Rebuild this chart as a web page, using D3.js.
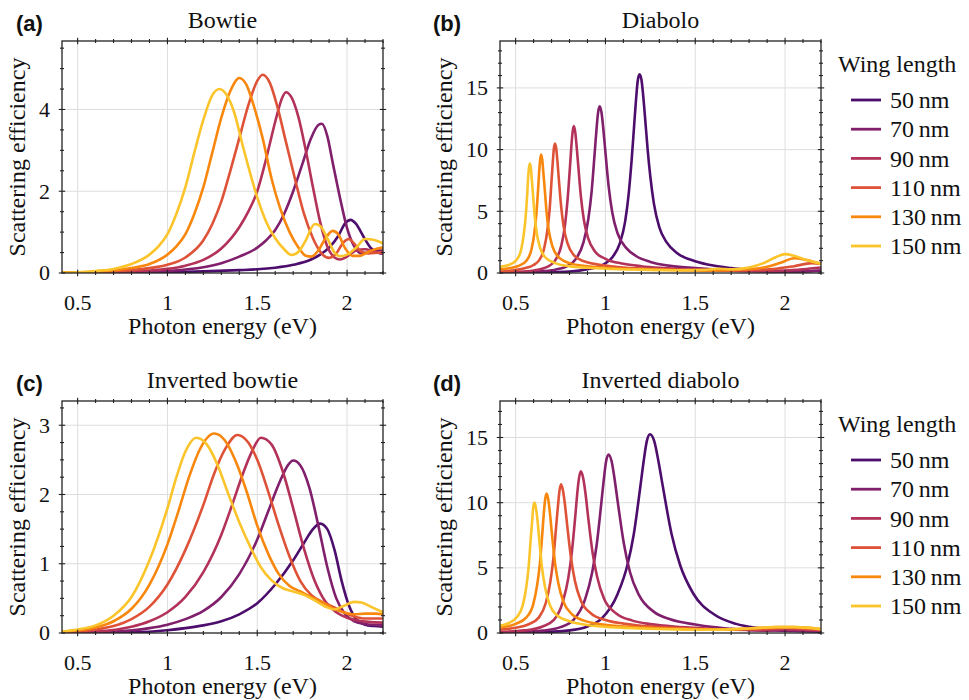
<!DOCTYPE html>
<html><head><meta charset="utf-8">
<script src="https://cdn.jsdelivr.net/npm/d3@7"></script>
<style>
body{margin:0;background:#fff}svg{display:block}
.serif{font-family:"Liberation Serif","DejaVu Serif","Noto Serif","Tinos","Nimbus Roman","Nimbus Roman No9 L","FreeSerif","Times New Roman","Times","Noto Serif CJK SC","Noto Serif CJK JP",serif}
.sansb{font-family:"Liberation Sans",Arial,sans-serif;font-weight:bold}
</style>
</head><body>
<svg id="chart" width="969" height="700"></svg>
<script>
// ---------- data ----------
const seriesLabels = ["50\u2009nm","70\u2009nm","90\u2009nm","110\u2009nm","130\u2009nm","150\u2009nm"];
const colorStops = [0.23,0.355,0.48,0.605,0.735,0.86];
const xDomain = [0.413, 2.2];
const xTicks = [0.5,1,1.5,2];
const xTickLabels = ["0.5","1","1.5","2"];
const panelTitles = ["Bowtie","Diabolo","Inverted bowtie","Inverted diabolo"];
const panelLetters = ["(a)","(b)","(c)","(d)"];
const xAxisTitle = "Photon energy (eV)";
const yAxisTitle = "Scattering efficiency";
const legendTitle = "Wing length";

// (a) Bowtie
const bowtie50 = [[0.413,0.001],[0.8,0.01],[1.0,0.02],[1.2,0.04],[1.4,0.07],[1.5,0.09],[1.6,0.13],[1.7,0.2],[1.8,0.33],[1.85,0.45],[1.9,0.62],[1.95,0.9],[1.99,1.22],[2.02,1.3],[2.05,1.2],[2.09,0.9],[2.13,0.62],[2.17,0.5],[2.2,0.47]];
const bowtie70 = [[0.413,0.002],[0.8,0.02],[1.0,0.05],[1.2,0.14],[1.3,0.24],[1.4,0.4],[1.5,0.62],[1.55,0.8],[1.6,1.05],[1.65,1.45],[1.7,2.0],[1.75,2.65],[1.8,3.3],[1.84,3.62],[1.86,3.65],[1.89,3.35],[1.92,2.7],[1.96,1.85],[2.0,1.1],[2.04,0.65],[2.08,0.48],[2.12,0.5],[2.16,0.55],[2.2,0.55]];
const bowtie90 = [[0.413,0.003],[0.7,0.02],[0.9,0.06],[1.0,0.1],[1.1,0.18],[1.2,0.32],[1.3,0.6],[1.4,1.12],[1.45,1.5],[1.5,2.0],[1.55,2.8],[1.6,3.7],[1.64,4.3],[1.66,4.42],[1.69,4.3],[1.73,3.8],[1.77,3.0],[1.81,2.1],[1.85,1.25],[1.89,0.65],[1.93,0.38],[1.96,0.33],[2.0,0.4],[2.05,0.55],[2.1,0.58],[2.15,0.52],[2.2,0.48]];
const bowtie110 = [[0.413,0.005],[0.6,0.02],[0.7,0.04],[0.8,0.07],[0.9,0.12],[1.0,0.2],[1.1,0.38],[1.2,0.8],[1.25,1.2],[1.3,1.75],[1.35,2.5],[1.4,3.3],[1.45,4.1],[1.5,4.7],[1.53,4.85],[1.57,4.65],[1.61,4.1],[1.66,3.2],[1.71,2.3],[1.76,1.45],[1.81,0.85],[1.86,0.47],[1.9,0.37],[1.94,0.48],[1.98,0.75],[2.01,0.83],[2.04,0.72],[2.08,0.52],[2.12,0.48],[2.2,0.5]];
const bowtie130 = [[0.413,0.01],[0.6,0.03],[0.7,0.06],[0.8,0.12],[0.9,0.22],[1.0,0.45],[1.05,0.65],[1.1,0.95],[1.15,1.45],[1.2,2.1],[1.25,2.95],[1.3,3.8],[1.35,4.45],[1.4,4.77],[1.44,4.6],[1.48,4.1],[1.53,3.3],[1.58,2.3],[1.63,1.55],[1.68,1.0],[1.73,0.62],[1.77,0.42],[1.8,0.4],[1.84,0.55],[1.88,0.85],[1.92,1.03],[1.95,0.95],[1.99,0.6],[2.03,0.42],[2.07,0.42],[2.12,0.52],[2.17,0.6],[2.2,0.62]];
const bowtie150 = [[0.413,0.01],[0.5,0.02],[0.6,0.05],[0.7,0.1],[0.8,0.22],[0.9,0.45],[0.95,0.65],[1.0,0.95],[1.05,1.45],[1.1,2.1],[1.15,2.95],[1.2,3.75],[1.25,4.35],[1.29,4.5],[1.33,4.35],[1.37,3.95],[1.42,3.1],[1.46,2.45],[1.5,1.85],[1.55,1.25],[1.6,0.85],[1.65,0.58],[1.69,0.44],[1.73,0.52],[1.77,0.8],[1.82,1.2],[1.85,1.15],[1.89,0.85],[1.93,0.5],[1.96,0.41],[2.0,0.45],[2.05,0.62],[2.1,0.83],[2.14,0.82],[2.2,0.72]];

// (b) Diabolo
const diabolo50 = [[0.413,0.01],[0.6,0.04],[0.8,0.12],[0.9,0.3],[0.99,0.7],[1.04,1.3],[1.08,2.4],[1.11,4.2],[1.13,6.5],[1.145,9.0],[1.16,12.0],[1.17,14.0],[1.18,15.6],[1.19,16.1],[1.2,15.7],[1.21,14.4],[1.22,12.7],[1.235,10.0],[1.25,7.8],[1.27,5.6],[1.3,3.7],[1.34,2.5],[1.4,1.6],[1.5,0.95],[1.6,0.6],[1.7,0.4],[1.8,0.25],[1.9,0.15],[2.0,0.12],[2.1,0.13],[2.2,0.18]];
const diabolo70 = [[0.413,0.03],[0.6,0.1],[0.7,0.22],[0.788,0.55],[0.833,1.1],[0.878,2.5],[0.905,4.4],[0.923,6.6],[0.941,9.9],[0.95,11.6],[0.959,13.0],[0.968,13.5],[0.978,13.0],[0.988,11.7],[0.998,10.1],[1.018,7.0],[1.038,4.9],[1.068,3.2],[1.118,2.0],[1.168,1.4],[1.25,0.9],[1.35,0.6],[1.5,0.4],[1.7,0.22],[1.9,0.13],[2.0,0.12],[2.1,0.14],[2.2,0.2]];
const diabolo90 = [[0.413,0.04],[0.5,0.08],[0.6,0.2],[0.684,0.55],[0.719,1.0],[0.754,2.2],[0.775,3.9],[0.789,5.9],[0.803,8.7],[0.81,10.2],[0.817,11.4],[0.824,11.9],[0.832,11.4],[0.84,10.2],[0.848,8.8],[0.864,6.1],[0.88,4.3],[0.904,2.8],[0.944,1.7],[1.0,1.15],[1.1,0.75],[1.2,0.55],[1.3,0.42],[1.4,0.33],[1.5,0.27],[1.6,0.22],[1.8,0.15],[2.0,0.2],[2.1,0.3],[2.2,0.45]];
const diabolo110 = [[0.413,0.12],[0.5,0.24],[0.55,0.38],[0.6,0.65],[0.629,1.0],[0.659,2.0],[0.677,3.5],[0.689,5.1],[0.701,7.7],[0.707,9.0],[0.713,10.1],[0.719,10.5],[0.726,10.1],[0.733,9.0],[0.74,7.7],[0.754,5.3],[0.768,3.7],[0.789,2.4],[0.824,1.45],[0.88,0.95],[1.0,0.6],[1.1,0.45],[1.2,0.37],[1.4,0.27],[1.6,0.2],[1.8,0.25],[1.95,0.35],[2.05,0.55],[2.15,0.8],[2.2,0.75]];
const diabolo130 = [[0.413,0.3],[0.47,0.4],[0.52,0.6],[0.56,1.0],[0.588,1.9],[0.604,3.2],[0.615,4.7],[0.626,7.0],[0.631,8.2],[0.637,9.2],[0.642,9.6],[0.648,9.2],[0.654,8.2],[0.661,7.0],[0.673,4.8],[0.685,3.4],[0.704,2.2],[0.735,1.35],[0.8,0.8],[0.9,0.55],[1.0,0.42],[1.2,0.3],[1.4,0.22],[1.55,0.2],[1.65,0.22],[1.8,0.3],[1.9,0.5],[1.98,0.85],[2.05,1.2],[2.12,1.05],[2.2,0.75]];
const diabolo150 = [[0.413,0.5],[0.47,0.7],[0.507,1.1],[0.531,1.9],[0.545,3.1],[0.555,4.4],[0.565,6.5],[0.569,7.6],[0.574,8.5],[0.579,8.87],[0.585,8.5],[0.59,7.6],[0.596,6.5],[0.607,4.5],[0.618,3.2],[0.635,2.1],[0.663,1.3],[0.72,0.8],[0.8,0.55],[0.9,0.42],[1.0,0.35],[1.2,0.27],[1.4,0.22],[1.55,0.25],[1.63,0.35],[1.7,0.3],[1.8,0.45],[1.88,0.8],[1.95,1.3],[2.0,1.53],[2.05,1.4],[2.12,1.05],[2.2,0.75]];

// (c) Inverted bowtie
const invBowtie50 = [[0.413,0.001],[0.8,0.01],[1.0,0.04],[1.1,0.07],[1.2,0.11],[1.3,0.17],[1.4,0.27],[1.5,0.43],[1.6,0.7],[1.7,1.05],[1.76,1.3],[1.81,1.5],[1.85,1.58],[1.89,1.5],[1.93,1.2],[1.97,0.75],[2.01,0.4],[2.05,0.2],[2.1,0.12],[2.15,0.1],[2.2,0.09]];
const invBowtie70 = [[0.413,0.003],[0.7,0.02],[0.9,0.07],[1.0,0.12],[1.1,0.2],[1.2,0.32],[1.3,0.52],[1.4,0.85],[1.5,1.35],[1.56,1.75],[1.62,2.15],[1.67,2.42],[1.7,2.49],[1.74,2.42],[1.79,2.1],[1.84,1.55],[1.89,0.95],[1.94,0.5],[1.99,0.27],[2.04,0.17],[2.1,0.13],[2.2,0.11]];
const invBowtie90 = [[0.413,0.005],[0.6,0.02],[0.8,0.09],[0.9,0.17],[1.0,0.3],[1.1,0.52],[1.2,0.88],[1.3,1.42],[1.36,1.85],[1.42,2.3],[1.47,2.62],[1.52,2.82],[1.58,2.72],[1.64,2.35],[1.7,1.8],[1.76,1.22],[1.82,0.75],[1.88,0.45],[1.94,0.3],[2.0,0.22],[2.06,0.18],[2.12,0.16],[2.2,0.15]];
const invBowtie110 = [[0.413,0.01],[0.6,0.05],[0.7,0.1],[0.8,0.2],[0.9,0.38],[1.0,0.7],[1.1,1.2],[1.2,1.85],[1.26,2.3],[1.32,2.65],[1.39,2.86],[1.45,2.75],[1.5,2.5],[1.56,2.05],[1.62,1.55],[1.68,1.1],[1.74,0.75],[1.8,0.55],[1.86,0.45],[1.92,0.38],[1.98,0.3],[2.04,0.24],[2.1,0.21],[2.2,0.21]];
const invBowtie130 = [[0.413,0.02],[0.5,0.04],[0.6,0.08],[0.7,0.17],[0.8,0.35],[0.9,0.7],[1.0,1.28],[1.06,1.75],[1.12,2.25],[1.18,2.65],[1.26,2.88],[1.32,2.78],[1.38,2.48],[1.44,2.05],[1.5,1.55],[1.56,1.15],[1.62,0.85],[1.68,0.68],[1.74,0.6],[1.8,0.52],[1.86,0.45],[1.92,0.36],[1.98,0.3],[2.04,0.27],[2.1,0.28],[2.16,0.28],[2.2,0.27]];
const invBowtie150 = [[0.413,0.02],[0.5,0.05],[0.6,0.11],[0.7,0.25],[0.8,0.52],[0.9,1.05],[1.0,1.8],[1.05,2.25],[1.1,2.62],[1.16,2.82],[1.22,2.72],[1.28,2.42],[1.34,2.0],[1.4,1.6],[1.46,1.25],[1.52,0.95],[1.58,0.76],[1.64,0.65],[1.7,0.6],[1.76,0.55],[1.82,0.47],[1.88,0.38],[1.93,0.34],[1.98,0.39],[2.04,0.45],[2.08,0.44],[2.14,0.37],[2.2,0.3]];

// (d) Inverted diabolo
const invDiabolo50 = [[0.413,0.01],[0.6,0.04],[0.8,0.2],[0.9,0.5],[0.978,1.1],[1.068,3.0],[1.122,5.2],[1.158,7.6],[1.194,11.2],[1.212,13.1],[1.23,14.7],[1.248,15.25],[1.272,14.7],[1.296,13.1],[1.32,11.2],[1.368,7.6],[1.416,5.2],[1.488,3.05],[1.608,1.4],[1.728,0.7],[1.85,0.38],[1.95,0.22],[2.05,0.15],[2.2,0.1]];
const invDiabolo70 = [[0.413,0.03],[0.5,0.06],[0.65,0.18],[0.75,0.45],[0.822,1.0],[0.887,2.6],[0.926,4.65],[0.952,6.85],[0.978,10.1],[0.991,11.8],[1.004,13.2],[1.017,13.7],[1.034,13.2],[1.051,11.8],[1.068,10.1],[1.102,6.9],[1.136,4.7],[1.187,2.9],[1.272,1.6],[1.36,1.05],[1.5,0.65],[1.6,0.45],[1.7,0.32],[1.8,0.22],[1.9,0.18],[2.0,0.2],[2.1,0.18],[2.2,0.15]];
const invDiabolo90 = [[0.413,0.08],[0.55,0.2],[0.65,0.5],[0.713,1.0],[0.763,2.4],[0.793,4.2],[0.813,6.2],[0.833,9.1],[0.843,10.7],[0.853,11.9],[0.863,12.4],[0.876,11.9],[0.889,10.7],[0.902,9.1],[0.928,6.2],[0.954,4.3],[0.993,2.6],[1.06,1.5],[1.15,0.95],[1.25,0.68],[1.4,0.48],[1.5,0.4],[1.7,0.25],[1.9,0.22],[2.0,0.28],[2.1,0.25],[2.2,0.2]];
const invDiabolo110 = [[0.413,0.25],[0.5,0.4],[0.57,0.65],[0.63,1.2],[0.668,2.3],[0.693,3.9],[0.71,5.7],[0.727,8.4],[0.736,9.8],[0.744,10.9],[0.753,11.4],[0.764,10.9],[0.775,9.8],[0.786,8.4],[0.808,5.8],[0.83,4.0],[0.863,2.5],[0.92,1.5],[1.0,1.0],[1.1,0.72],[1.2,0.55],[1.3,0.45],[1.5,0.33],[1.7,0.25],[1.85,0.3],[2.0,0.38],[2.1,0.33],[2.2,0.25]];
const invDiabolo130 = [[0.413,0.45],[0.45,0.5],[0.5,0.7],[0.56,1.2],[0.598,2.2],[0.62,3.7],[0.635,5.3],[0.65,7.9],[0.657,9.2],[0.665,10.3],[0.672,10.7],[0.681,10.3],[0.691,9.2],[0.7,7.9],[0.719,5.4],[0.738,3.8],[0.766,2.4],[0.813,1.45],[0.88,0.95],[0.95,0.72],[1.05,0.55],[1.2,0.42],[1.4,0.32],[1.6,0.28],[1.8,0.35],[1.95,0.45],[2.05,0.45],[2.2,0.3]];
const invDiabolo150 = [[0.413,0.55],[0.46,0.75],[0.506,1.2],[0.539,2.1],[0.559,3.5],[0.572,5.0],[0.585,7.4],[0.592,8.6],[0.598,9.6],[0.605,10.0],[0.613,9.6],[0.622,8.6],[0.63,7.4],[0.647,5.0],[0.664,3.5],[0.689,2.2],[0.731,1.35],[0.8,0.9],[0.9,0.62],[1.0,0.48],[1.2,0.35],[1.4,0.28],[1.6,0.25],[1.8,0.35],[1.95,0.45],[2.05,0.45],[2.2,0.3]];

const yTicksA = [0,2,4], yTicksB = [0,5,10,15], yTicksC = [0,1,2,3], yTicksD = [0,5,10,15];

// ---------- layout ----------
const W = 321, H = 232;
const panels = [
  {x:62,  y:41,  yMax:5.675, yTicks:yTicksA, yMinor:0.5,  series:[bowtie50,bowtie70,bowtie90,bowtie110,bowtie130,bowtie150], yLabX:-37, legend:false},
  {x:500, y:41,  yMax:18.8,  yTicks:yTicksB, yMinor:1,    series:[diabolo50,diabolo70,diabolo90,diabolo110,diabolo130,diabolo150], yLabX:-48, legend:true},
  {x:62,  y:401, yMax:3.35,  yTicks:yTicksC, yMinor:0.25, series:[invBowtie50,invBowtie70,invBowtie90,invBowtie110,invBowtie130,invBowtie150], yLabX:-37, legend:false},
  {x:500, y:401, yMax:17.8,  yTicks:yTicksD, yMinor:1,    series:[invDiabolo50,invDiabolo70,invDiabolo90,invDiabolo110,invDiabolo130,invDiabolo150], yLabX:-48, legend:true}
];
const colors = colorStops.map(t => d3.interpolateInferno(t));

const svg = d3.select("#chart");
svg.append("rect").attr("width",969).attr("height",700).attr("fill","#fff");

panels.forEach((p, pi) => {
  const g = svg.append("g").attr("transform", `translate(${p.x},${p.y})`);
  const x = d3.scaleLinear().domain(xDomain).range([0, W]);
  const y = d3.scaleLinear().domain([0, p.yMax]).range([H, 0]);
  const xMinor = d3.range(0.5, 2.2001, 0.1).filter(v => !xTicks.some(t => Math.abs(t - v) < 1e-6));
  const yMinor = d3.range(0, p.yMax, p.yMinor).filter(v => !p.yTicks.some(t => Math.abs(t - v) < 1e-6));

  g.append("g").selectAll("line").data(xTicks).join("line")
    .attr("x1", d => x(d)).attr("x2", d => x(d)).attr("y1", 0).attr("y2", H)
    .attr("stroke", "#dedede").attr("stroke-width", 1);
  g.append("g").selectAll("line").data(p.yTicks.filter(d => d > 0)).join("line")
    .attr("x1", 0).attr("x2", W).attr("y1", d => y(d)).attr("y2", d => y(d))
    .attr("stroke", "#dedede").attr("stroke-width", 1);

  const clipId = "clip" + pi;
  g.append("clipPath").attr("id", clipId).append("rect").attr("x",0).attr("y",-2).attr("width", W).attr("height", H + 2);
  const line = d3.line().x(d => x(d[0])).y(d => y(d[1])).curve(d3.curveMonotoneX);
  g.append("g").attr("clip-path", `url(#${clipId})`).selectAll("path").data(p.series).join("path")
    .attr("d", line).attr("fill", "none")
    .attr("stroke", (d, i) => colors[i]).attr("stroke-width", 2.6)
    .attr("stroke-linejoin", "round").attr("stroke-linecap", "round");

  g.append("rect").attr("width", W).attr("height", H).attr("fill", "none").attr("stroke", "#222").attr("stroke-width", 1.3);

  const tk = g.append("g").attr("stroke", "#222").attr("stroke-width", 1.1);
  [[xTicks, 3.2], [xMinor, 2]].forEach(([vals, len]) => {
    [0, H].forEach(yy => {
      tk.append("g").selectAll("line").data(vals).join("line")
        .attr("x1", d => x(d)).attr("x2", d => x(d)).attr("y1", yy - len).attr("y2", yy + len);
    });
  });
  [[p.yTicks, 3.2], [yMinor, 2]].forEach(([vals, len]) => {
    [0, W].forEach(xx => {
      tk.append("g").selectAll("line").data(vals).join("line")
        .attr("y1", d => y(d)).attr("y2", d => y(d)).attr("x1", xx - len).attr("x2", xx + len);
    });
  });

  g.append("g").selectAll("text").data(xTicks).join("text").attr("class", "serif")
    .attr("x", d => x(d)).attr("y", H + 37).attr("text-anchor", "middle")
    .attr("font-size", 22).attr("fill", "#111")
    .text((d, i) => xTickLabels[i]);
  g.append("g").selectAll("text").data(p.yTicks).join("text").attr("class", "serif")
    .attr("x", -12).attr("y", d => y(d)).attr("dy", "0.34em").attr("text-anchor", "end")
    .attr("font-size", 22).attr("fill", "#111")
    .text(d => d);

  g.append("text").attr("class", "serif").attr("x", W / 2).attr("y", H + 61).attr("text-anchor", "middle")
    .attr("font-size", 24).attr("fill", "#111").text(xAxisTitle);
  g.append("text").attr("class", "serif").attr("transform", `translate(${p.yLabX},${H / 2}) rotate(-90)`).attr("text-anchor", "middle")
    .attr("font-size", 24).attr("fill", "#111").text(yAxisTitle);

  g.append("text").attr("class", "serif").attr("x", W / 2).attr("y", -13).attr("text-anchor", "middle")
    .attr("font-size", 24).attr("fill", "#111").text(panelTitles[pi]);
  g.append("text").attr("class", "sansb").attr("x", pi % 2 === 0 ? -46 : -67).attr("y", -10)
    .attr("font-size", 22).attr("fill", "#111").text(panelLetters[pi]);

  if (p.legend) {
    const lg = svg.append("g").attr("transform", `translate(838,${p.y})`);
    lg.append("text").attr("class", "serif").attr("x", 0).attr("y", 31).attr("font-size", 24)
      .attr("fill", "#111").text(legendTitle);
    const rows = lg.selectAll("g.row").data(seriesLabels).join("g").attr("class", "row")
      .attr("transform", (d, i) => `translate(0,${59 + i * 29.2})`);
    rows.append("line").attr("x1", 13).attr("x2", 43).attr("y1", 0).attr("y2", 0)
      .attr("stroke", (d, i) => colors[i]).attr("stroke-width", 2.8);
    rows.append("text").attr("class", "serif").attr("x", 52).attr("y", 0).attr("dy", "0.34em")
      .attr("font-size", 24).attr("fill", "#111").text(d => d);
  }
});
</script>
</body></html>
